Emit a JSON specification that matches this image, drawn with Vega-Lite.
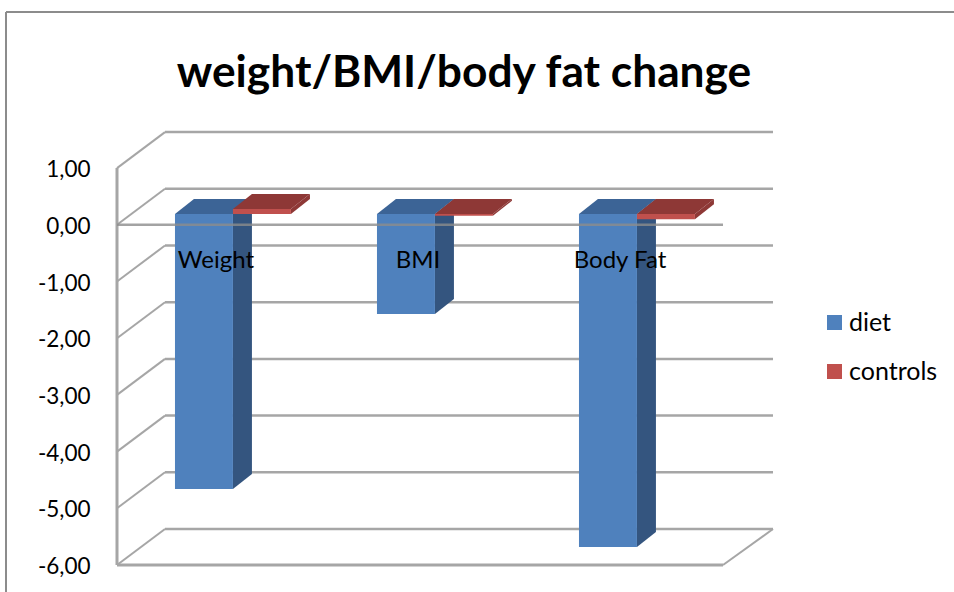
{
"$schema":"https://vega.github.io/schema/vega-lite/v6.json",
"width":656,"height":433,
"autosize":{"type":"none"},
"padding":{"left":117,"top":132,"right":181,"bottom":27},
"background":"white",
"title":{"text":"weight/BMI/body fat change","font":"Lato","fontSize":44.3,"fontWeight":"bold","color":"#000000","anchor":"middle","dx":19,"offset":-120,"baseline":"alphabetic"},
"config":{"view":{"stroke":null},"axisX":{"disable":true}},
"datasets":{
"ticks":[{"t":1},{"t":0},{"t":-1},{"t":-2},{"t":-3},{"t":-4},{"t":-5},{"t":-6}],
"bars":[
{"category":"Weight","series":"diet","value":-4.85},
{"category":"Weight","series":"controls","value":0.09},
{"category":"BMI","series":"diet","value":-1.76},
{"category":"BMI","series":"controls","value":-0.03},
{"category":"Body Fat","series":"diet","value":-5.87},
{"category":"Body Fat","series":"controls","value":-0.09}
],
"labels":[{"category":"Weight","slot":0},{"category":"BMI","slot":1},{"category":"Body Fat","slot":2}]
},
"layer":[
{"data":{"name":"ticks"},"mark":{"type":"rule","opacity":0},
 "encoding":{"y":{"field":"t","type":"quantitative","title":null,"scale":{"domain":[-6,1.637],"nice":false,"zero":false},"axis":{"title":null,"domain":false,"ticks":false,"grid":false,"values":[1,0,-1,-2,-3,-4,-5,-6],"labelExpr":"replace(replace(format(datum.value,'.2f'),'.',','),'−','-')","labelFont":"Lato","labelFontSize":22.5,"labelColor":"#000000","labelPadding":27,"labelOffset":1.5,"labelFlush":false,"labelOverlap":false}}}},
{"data":{"values":[{}]},"mark":{"type":"rule","color":"#8c8c8c","strokeWidth":2,"clip":false},
 "encoding":{"x":{"datum":-0.5495,"type":"quantitative","title":null,"scale":{"domain":[0,3.2475],"nice":false,"zero":false}},"x2":{"datum":4.2},"y":{"datum":3.753,"type":"quantitative","title":null,"scale":{"domain":[-6,1.637],"nice":false,"zero":false}}}},
{"data":{"values":[{}]},"mark":{"type":"rule","color":"#8c8c8c","strokeWidth":2,"clip":false},
 "encoding":{"x":{"datum":-0.5495,"type":"quantitative","title":null,"scale":{"domain":[0,3.2475],"nice":false,"zero":false}},"y":{"datum":3.753,"type":"quantitative","title":null,"scale":{"domain":[-6,1.637],"nice":false,"zero":false}},"y2":{"datum":-6.6}}},
{"data":{"name":"ticks"},"transform":[{"calculate":"datum.t+0.635","as":"by"}],"mark":{"type":"rule","color":"#a6a6a6","strokeWidth":2.5},
 "encoding":{"x":{"datum":0.2376,"type":"quantitative","title":null,"scale":{"domain":[0,3.2475],"nice":false,"zero":false}},"x2":{"datum":3.2475},"y":{"field":"by","type":"quantitative","title":null,"scale":{"domain":[-6,1.637],"nice":false,"zero":false}}}},
{"data":{"name":"ticks"},"transform":[{"calculate":"datum.t+0.635","as":"by"}],"mark":{"type":"rule","color":"#a6a6a6","strokeWidth":2},
 "encoding":{"x":{"datum":0,"type":"quantitative","title":null,"scale":{"domain":[0,3.2475],"nice":false,"zero":false}},"x2":{"datum":0.2376},"y":{"field":"t","type":"quantitative","title":null,"scale":{"domain":[-6,1.637],"nice":false,"zero":false}},"y2":{"field":"by"}}},
{"data":{"values":[{}]},"mark":{"type":"rule","color":"#a6a6a6","strokeWidth":2},
 "encoding":{"x":{"datum":3,"type":"quantitative","title":null,"scale":{"domain":[0,3.2475],"nice":false,"zero":false}},"x2":{"datum":3.2475},"y":{"datum":-6,"type":"quantitative","title":null,"scale":{"domain":[-6,1.637],"nice":false,"zero":false}},"y2":{"datum":-5.365}}},
{"data":{"values":[{}]},"mark":{"type":"rule","color":"#a6a6a6","strokeWidth":3},
 "encoding":{"x":{"datum":0,"type":"quantitative","title":null,"scale":{"domain":[0,3.2475],"nice":false,"zero":false}},"x2":{"datum":3},"y":{"datum":-6,"type":"quantitative","title":null,"scale":{"domain":[-6,1.637],"nice":false,"zero":false}}}},
{"data":{"values":[{}]},"mark":{"type":"rule","color":"#a6a6a6","strokeWidth":3},
 "encoding":{"x":{"datum":0,"type":"quantitative","title":null,"scale":{"domain":[0,3.2475],"nice":false,"zero":false}},"y":{"datum":1,"type":"quantitative","title":null,"scale":{"domain":[-6,1.637],"nice":false,"zero":false}},"y2":{"datum":-6}}},
{"data":{"name":"bars"},
 "transform":[
 {"calculate":"indexof(['Weight','BMI','Body Fat'],datum.category)","as":"slot"},
 {"calculate":"datum.series==='diet'?0:1","as":"si"},
 {"calculate":"datum.slot+0.287+datum.si*0.287","as":"xl"},
 {"calculate":"datum.xl+0.287","as":"xr"},
 {"calculate":"max(datum.value,0)+0.189","as":"top"},
 {"calculate":"min(datum.value,0)+0.189","as":"bot"},
 {"calculate":"datum.category+datum.series","as":"id"},
 {"calculate":"[0,1]","as":"d"},
 {"flatten":["d"]},
 {"calculate":"datum.d*0.094","as":"ox"},
 {"calculate":"datum.d*0.2646","as":"oy"},
 {"calculate":"datum.xr+datum.ox","as":"sx"},
 {"calculate":"datum.xl+datum.ox","as":"tx"},
 {"calculate":"datum.bot+datum.oy","as":"sb"},
 {"calculate":"datum.top+datum.oy","as":"st"}
 ],
 "layer":[
 {"transform":[{"filter":"datum.series==='diet'"}],"mark":{"type":"area","orient":"vertical","color":"#34557f"},
  "encoding":{"x":{"field":"sx","type":"quantitative","title":null,"scale":{"domain":[0,3.2475],"nice":false,"zero":false}},"y":{"field":"sb","type":"quantitative","title":null,"stack":null,"scale":{"domain":[-6,1.637],"nice":false,"zero":false}},"y2":{"field":"st"},"detail":{"field":"id"}}},
 {"transform":[{"filter":"datum.series==='controls'"}],"mark":{"type":"area","orient":"vertical","color":"#8e3836"},
  "encoding":{"x":{"field":"sx","type":"quantitative","title":null,"scale":{"domain":[0,3.2475],"nice":false,"zero":false}},"y":{"field":"sb","type":"quantitative","title":null,"stack":null,"scale":{"domain":[-6,1.637],"nice":false,"zero":false}},"y2":{"field":"st"},"detail":{"field":"id"}}},
 {"transform":[{"filter":"datum.series==='diet'"}],"mark":{"type":"area","orient":"horizontal","color":"#3c6496"},
  "encoding":{"y":{"field":"st","type":"quantitative","title":null,"stack":null,"scale":{"domain":[-6,1.637],"nice":false,"zero":false}},"x":{"field":"tx","type":"quantitative","title":null,"scale":{"domain":[0,3.2475],"nice":false,"zero":false}},"x2":{"field":"sx"},"detail":{"field":"id"}}},
 {"transform":[{"filter":"datum.series==='controls'"}],"mark":{"type":"area","orient":"horizontal","color":"#8e3836"},
  "encoding":{"y":{"field":"st","type":"quantitative","title":null,"stack":null,"scale":{"domain":[-6,1.637],"nice":false,"zero":false}},"x":{"field":"tx","type":"quantitative","title":null,"scale":{"domain":[0,3.2475],"nice":false,"zero":false}},"x2":{"field":"sx"},"detail":{"field":"id"}}},
 {"transform":[{"filter":"datum.d===0"}],"mark":{"type":"rect"},
  "encoding":{"x":{"field":"xl","type":"quantitative","title":null,"scale":{"domain":[0,3.2475],"nice":false,"zero":false}},"x2":{"field":"xr"},"y":{"field":"top","type":"quantitative","title":null,"scale":{"domain":[-6,1.637],"nice":false,"zero":false}},"y2":{"field":"bot"},"color":{"field":"series","type":"nominal","title":null,"scale":{"domain":["diet","controls"],"range":["#4f81bd","#c0504d"]},"legend":{"orient":"none","legendX":705,"legendY":178,"symbolType":"square","symbolSize":225,"labelFont":"Lato","labelFontSize":25,"labelColor":"#000000","labelOffset":2,"rowPadding":23}}}}
 ]},
{"data":{"values":[{}]},"mark":{"type":"rule","color":"#8c8c8c","strokeWidth":2.5,"opacity":0.8},
 "encoding":{"x":{"datum":0,"type":"quantitative","title":null,"scale":{"domain":[0,3.2475],"nice":false,"zero":false}},"x2":{"datum":3},"y":{"datum":0,"type":"quantitative","title":null,"scale":{"domain":[-6,1.637],"nice":false,"zero":false}}}},
{"data":{"name":"labels"},"transform":[{"calculate":"datum.slot+0.49","as":"cx"}],"mark":{"type":"text","font":"Lato","fontSize":24,"color":"#000000","align":"center","baseline":"middle"},
 "encoding":{"x":{"field":"cx","type":"quantitative","title":null,"scale":{"domain":[0,3.2475],"nice":false,"zero":false}},"y":{"datum":-0.63,"type":"quantitative","title":null,"scale":{"domain":[-6,1.637],"nice":false,"zero":false}},"text":{"field":"category"}}}
]
}
